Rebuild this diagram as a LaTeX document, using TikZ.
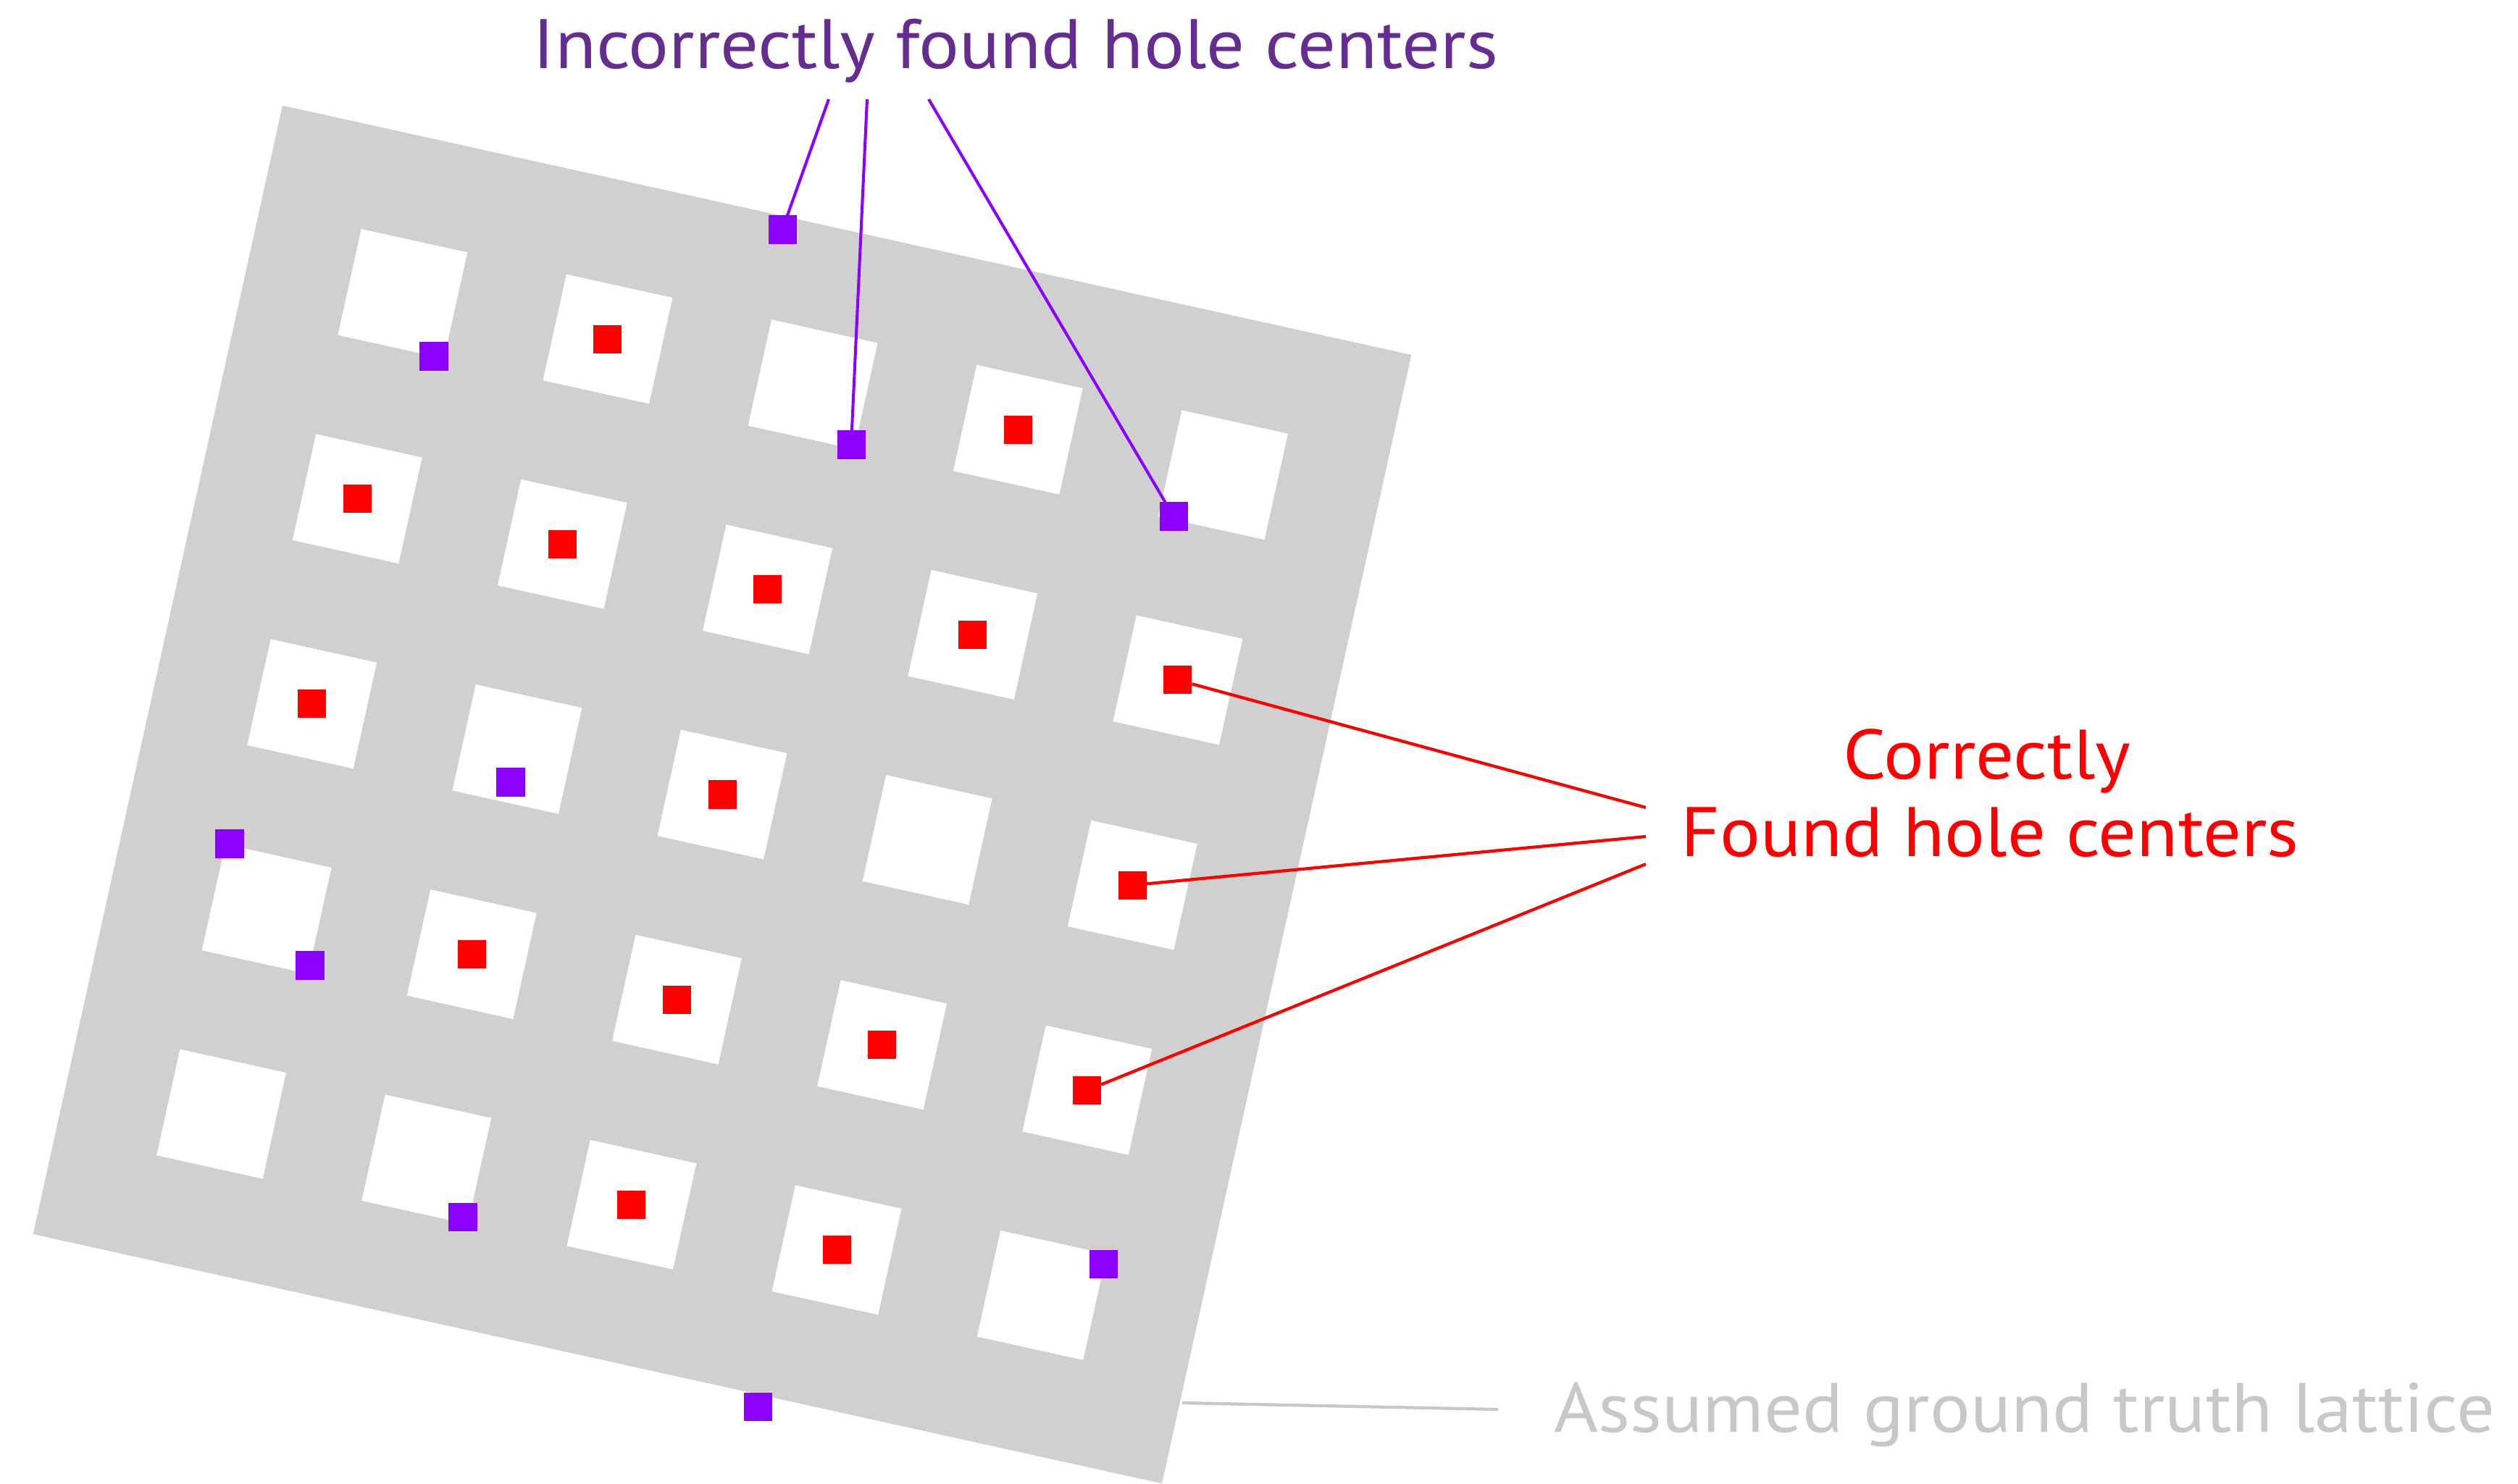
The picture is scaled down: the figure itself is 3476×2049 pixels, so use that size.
\documentclass[tikz,border=0pt]{standalone}
\usepackage{fontspec}
\setmainfont[FakeStretch=1.08]{PT Sans}
\definecolor{plategray}{RGB}{208,208,208}
\definecolor{labelgray}{RGB}{200,200,200}
\definecolor{txtpurple}{RGB}{102,45,145}
\definecolor{dotpurple}{RGB}{139,0,255}
\definecolor{dotred}{RGB}{255,0,0}
\begin{document}
\begin{tikzpicture}[x=0.01cm,y=-0.01cm,
  lbl/.style={font=\fontsize{27.5}{30}\selectfont, inner sep=0pt, anchor=base},
  dotbox/.style={rectangle, minimum size=0.39cm, inner sep=0pt, outer sep=0pt},
  reddot/.style={dotbox, fill=dotred},
  purpdot/.style={dotbox, fill=dotpurple},
  purpline/.style={draw=dotpurple, line width=1.15pt},
  redline/.style={draw=dotred, line width=1.2pt},
  grayline/.style={draw=labelgray, line width=1.2pt}]
\useasboundingbox (0,0) rectangle (3476,2049);

% plate with holes
\begin{scope}[shift={(997,1097)}, rotate=-12.46]
  \fill[plategray] (-798,-798) rectangle (798,798);
  \foreach \r in {0,...,4}{
    \foreach \c in {0,...,4}{
      \fill[white] ({-580+290*\c-75},{-580+290*\r-75}) rectangle ({-580+290*\c+75},{-580+290*\r+75});
    }
  }
  % correctly found centers
  \foreach \r/\c in {0/1,0/3,1/0,1/1,1/2,1/3,1/4,2/0,2/2,2/4,3/1,3/2,3/3,3/4,4/2,4/3}{
    \node[reddot] (r-\r-\c) at ({-580+290*\c},{-580+290*\r}) {};
  }
\end{scope}

% incorrectly found centers
\node[purpdot] (p1) at (1080,317) {};
\node[purpdot] (p2) at (599,492) {};
\node[purpdot] (p3) at (1175,614) {};
\node[purpdot] (p4) at (1620,713) {};
\node[purpdot] (p5) at (705,1080) {};
\node[purpdot] (p6) at (317,1165) {};
\node[purpdot] (p7) at (428,1333) {};
\node[purpdot] (p8) at (639,1680) {};
\node[purpdot] (p9) at (1523,1745) {};
\node[purpdot] (p10) at (1046,1942) {};

% labels
\node[lbl, text=txtpurple] (inc) at (1402,95) {Incorrectly found hole centers};
\node[lbl, text=dotred] (cor1) at (2743,1075) {Correctly};
\node[lbl, text=dotred] (cor2) at (2747,1182) {Found hole centers};
\node[lbl, text=labelgray] (gt) at (2795,1977) {Assumed ground truth lattice};

% connector ends
\coordinate (t1) at (1144,137);
\coordinate (t2) at (1197,137);
\coordinate (t3) at (1282,137);
\coordinate (c1) at (2272,1115);
\coordinate (c2) at (2272,1155);
\coordinate (c3) at (2272,1193);
\coordinate (g1) at (1632,1937);
\coordinate (g2) at (2068,1946);

\draw[purpline] (t1) -- (p1);
\draw[purpline] (t2) -- (p3);
\draw[purpline] (t3) -- (p4);
\draw[redline] (r-1-4) -- (c1);
\draw[redline] (r-2-4) -- (c2);
\draw[redline] (r-3-4) -- (c3);
\draw[grayline] (g1) -- (g2);
\end{tikzpicture}
\end{document}
